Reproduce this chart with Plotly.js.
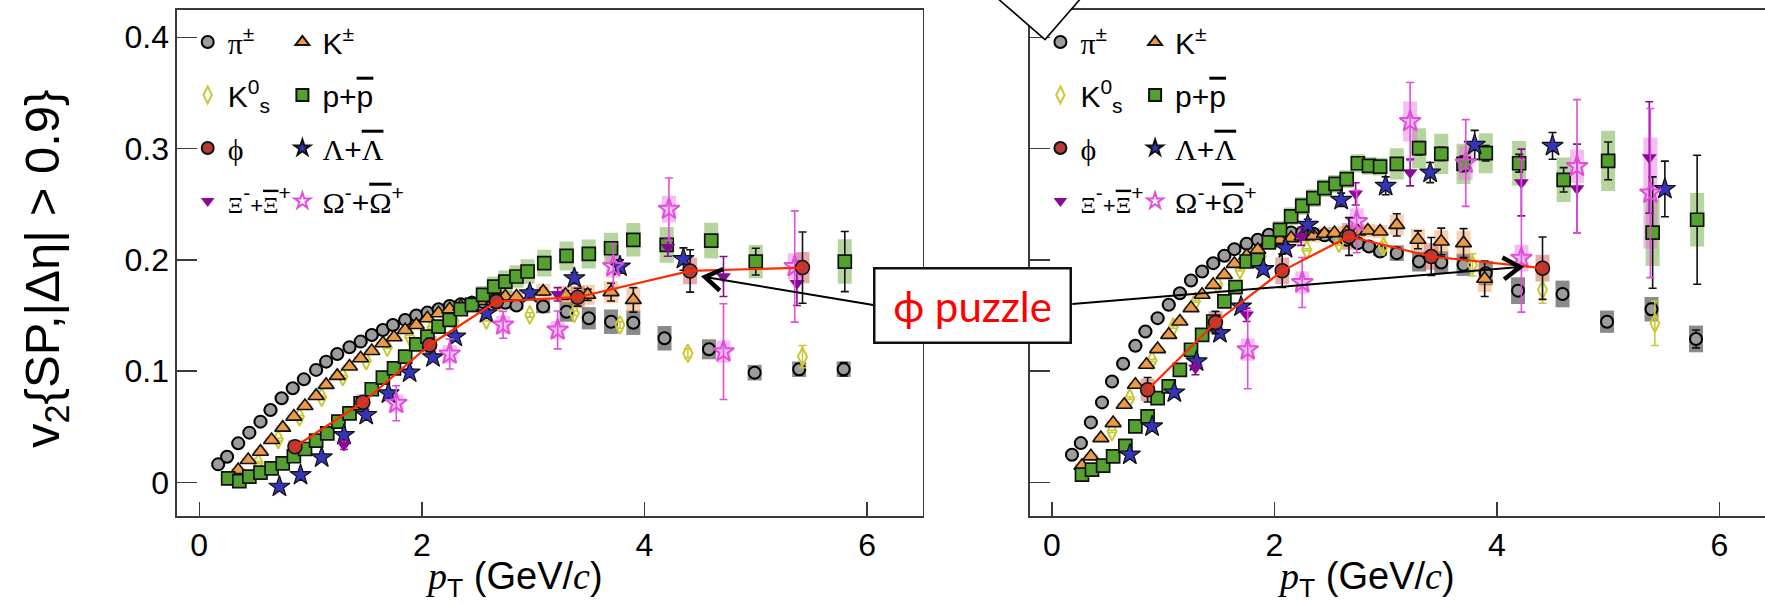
<!DOCTYPE html>
<html><head><meta charset="utf-8">
<script src="https://cdn.plot.ly/plotly-3.0.1.min.js"></script>
<style>html,body{margin:0;padding:0;overflow:hidden;background:#fff}</style>
</head><body><div id="chart" style="width:1800px;height:604px"></div>
<script>
// ---------------- DATA: left panel ----------------
const piL_x = [0.17,0.25,0.35,0.45,0.55,0.64,0.74,0.84,0.94,1.05,1.14,1.24,1.35,1.45,1.55,1.65,1.74,1.85,1.95,2.05,2.15,2.25,2.35,2.45,2.55,2.65,2.75,2.85,3.09,3.30,3.50,3.70,3.90,4.18,4.58,4.99,5.39,5.79];
const piL_v = [0.0162,0.0231,0.0351,0.0447,0.0546,0.0651,0.0756,0.0846,0.0927,0.1011,0.1085,0.1154,0.1214,0.1265,0.1325,0.137,0.1415,0.146,0.150,0.1526,0.1556,0.1586,0.160,0.1615,0.162,0.1625,0.1615,0.159,0.158,0.1534,0.1475,0.1444,0.1435,0.1295,0.1196,0.0986,0.1016,0.1016];
const piL_e = [0.001,0.001,0.001,0.001,0.001,0.001,0.001,0.001,0.001,0.001,0.001,0.001,0.001,0.001,0.001,0.001,0.001,0.001,0.001,0.001,0.001,0.001,0.001,0.001,0.001,0.001,0.001,0.001,0.002,0.002,0.002,0.003,0.003,0.003,0.004,0.004,0.005,0.006];
const piL_s = [0.002,0.002,0.002,0.002,0.002,0.002,0.002,0.002,0.002,0.002,0.002,0.002,0.002,0.002,0.002,0.002,0.002,0.002,0.002,0.002,0.002,0.002,0.004,0.004,0.004,0.004,0.004,0.004,0.006,0.009,0.010,0.011,0.011,0.011,0.009,0.007,0.007,0.007];

const kL_x = [0.35,0.44,0.55,0.65,0.75,0.85,0.95,1.05,1.14,1.24,1.35,1.45,1.55,1.65,1.75,1.85,1.95,2.05,2.15,2.25,2.35,2.45,2.55,2.65,2.75,2.85,3.09,3.29,3.49,3.70,3.90];
const kL_v = [0.0111,0.0201,0.0276,0.0381,0.0492,0.0591,0.0687,0.0777,0.0876,0.0957,0.1041,0.1115,0.1181,0.125,0.1304,0.137,0.1415,0.1475,0.152,0.1556,0.158,0.161,0.163,0.165,0.167,0.167,0.1715,0.1685,0.1686,0.171,0.164];
const kL_e = [0.001,0.001,0.001,0.001,0.001,0.001,0.001,0.001,0.001,0.001,0.001,0.001,0.001,0.001,0.001,0.001,0.001,0.001,0.001,0.001,0.002,0.002,0.002,0.002,0.002,0.002,0.003,0.004,0.005,0.008,0.011];
const kL_s = [0.002,0.002,0.002,0.002,0.002,0.002,0.002,0.002,0.002,0.002,0.002,0.002,0.002,0.002,0.002,0.002,0.002,0.002,0.002,0.002,0.005,0.005,0.005,0.005,0.005,0.005,0.007,0.008,0.009,0.010,0.011];

const k0L_x = [0.53,0.71,0.90,1.10,1.29,1.50,1.69,1.89,2.09,2.29,2.58,2.97,3.37,3.78,4.39,5.42];
const k0L_v = [0.0177,0.0387,0.0591,0.0765,0.0951,0.1094,0.1214,0.131,0.139,0.145,0.146,0.1505,0.152,0.1415,0.116,0.113];
const k0L_e = [0.001,0.001,0.001,0.001,0.001,0.001,0.001,0.001,0.001,0.001,0.001,0.002,0.002,0.003,0.004,0.010];

const pL_x = [0.26,0.36,0.45,0.55,0.65,0.75,0.85,0.95,1.05,1.15,1.25,1.35,1.45,1.55,1.65,1.75,1.85,1.95,2.05,2.15,2.25,2.35,2.45,2.55,2.65,2.75,2.85,2.95,3.10,3.30,3.50,3.70,3.90,4.20,4.60,5.00,5.80];
const pL_v = [0.0036,0.0012,0.0051,0.0087,0.0126,0.0171,0.0235,0.030,0.0375,0.0441,0.0546,0.062,0.071,0.0837,0.0942,0.1025,0.113,0.124,0.131,0.140,0.146,0.1556,0.1595,0.1685,0.176,0.1805,0.185,0.1895,0.197,0.2035,0.2053,0.2104,0.218,0.2134,0.2173,0.1984,0.1984];
const pL_e = [0.001,0.001,0.001,0.001,0.001,0.001,0.001,0.001,0.001,0.001,0.001,0.001,0.001,0.001,0.001,0.001,0.001,0.001,0.001,0.001,0.001,0.001,0.001,0.001,0.001,0.001,0.001,0.001,0.002,0.003,0.003,0.004,0.004,0.005,0.005,0.012,0.027];
const pL_s = [0.002,0.002,0.002,0.002,0.002,0.002,0.002,0.002,0.002,0.002,0.002,0.002,0.002,0.002,0.002,0.002,0.002,0.002,0.002,0.002,0.005,0.006,0.007,0.008,0.009,0.010,0.010,0.011,0.012,0.013,0.013,0.014,0.015,0.016,0.016,0.015,0.020];

const phiL_x = [0.86,1.47,2.07,2.67,3.40,4.41,5.42];
const phiL_v = [0.032,0.072,0.1235,0.1625,0.1664,0.190,0.193];
const phiL_e = [0.004,0.004,0.006,0.006,0.008,0.019,0.032];
const phiL_s = [0.006,0.007,0.008,0.009,0.010,0.012,0.014];

const laL_x = [0.72,0.91,1.10,1.30,1.50,1.70,1.89,2.10,2.30,2.58,2.97,3.37,3.78,4.35];
const laL_v = [-0.0039,0.0066,0.0225,0.0426,0.0606,0.080,0.0987,0.1124,0.131,0.152,0.170,0.1835,0.194,0.2007];
const laL_e = [0.002,0.002,0.002,0.002,0.002,0.003,0.003,0.003,0.003,0.004,0.004,0.005,0.006,0.010];

const xiL_x = [1.30,3.22,4.21,4.71,5.37];
const xiL_v = [0.0336,0.1690,0.2112,0.185,0.179];
const xiL_e = [0.004,0.006,0.008,0.018,0.020];

const omL_x = [1.77,2.25,2.73,3.22,3.72,4.22,4.71,5.35];
const omL_v = [0.0711,0.1154,0.1415,0.137,0.194,0.2455,0.1175,0.194];
const omL_ep = [0.0157,0.0135,0.012,0.017,0.020,0.028,0.043,0.050];
const omL_em = [0.0157,0.0135,0.012,0.017,0.020,0.028,0.043,0.050];
const omL_s = [0.008,0.008,0.008,0.008,0.010,0.012,0.010,0.012];

// ---------------- DATA: right panel ----------------
const piR_x = [0.18,0.26,0.35,0.45,0.54,0.64,0.75,0.84,0.95,1.05,1.15,1.25,1.35,1.45,1.55,1.64,1.75,1.85,1.95,2.05,2.15,2.25,2.35,2.45,2.55,2.65,2.75,2.85,2.95,3.10,3.30,3.50,3.70,3.90,4.19,4.59,4.99,5.39,5.79];
const piR_v = [0.0249,0.0353,0.0539,0.0719,0.0907,0.1066,0.1228,0.1356,0.1476,0.1596,0.170,0.1814,0.1895,0.197,0.2036,0.2096,0.2144,0.218,0.2225,0.2235,0.2245,0.2245,0.2235,0.222,0.220,0.218,0.215,0.212,0.2075,0.206,0.1985,0.1976,0.1955,0.188,0.1723,0.1693,0.1444,0.1556,0.1289];
const piR_e = [0.001,0.001,0.001,0.001,0.001,0.001,0.001,0.001,0.001,0.001,0.001,0.001,0.001,0.001,0.001,0.001,0.001,0.001,0.001,0.001,0.001,0.001,0.001,0.001,0.001,0.001,0.001,0.001,0.001,0.002,0.002,0.002,0.002,0.002,0.003,0.004,0.004,0.005,0.008];
const piR_s = [0.002,0.002,0.002,0.002,0.002,0.002,0.002,0.002,0.002,0.002,0.002,0.002,0.002,0.002,0.002,0.002,0.002,0.002,0.002,0.004,0.004,0.004,0.004,0.004,0.004,0.004,0.004,0.004,0.004,0.007,0.009,0.010,0.010,0.011,0.012,0.012,0.010,0.011,0.012];

const kR_x = [0.27,0.35,0.44,0.55,0.65,0.75,0.85,0.95,1.05,1.15,1.25,1.35,1.45,1.55,1.64,1.75,1.85,1.95,2.05,2.15,2.25,2.35,2.45,2.54,2.65,2.75,2.84,2.95,3.10,3.29,3.50,3.70,3.89];
const kR_v = [0.015,0.0234,0.0398,0.0533,0.0698,0.0877,0.1057,0.1198,0.1326,0.1446,0.1566,0.1686,0.1775,0.1865,0.1964,0.2036,0.209,0.215,0.218,0.2195,0.221,0.2216,0.2234,0.224,0.2245,0.2255,0.2263,0.2254,0.2314,0.218,0.2165,0.215,0.183];
const kR_e = [0.001,0.001,0.001,0.001,0.001,0.001,0.001,0.001,0.001,0.001,0.001,0.001,0.001,0.001,0.001,0.001,0.001,0.001,0.002,0.002,0.002,0.002,0.002,0.002,0.002,0.002,0.002,0.002,0.010,0.008,0.012,0.013,0.016];
const kR_s = [0.002,0.002,0.002,0.002,0.002,0.002,0.002,0.002,0.002,0.002,0.002,0.002,0.002,0.002,0.002,0.002,0.002,0.002,0.006,0.006,0.006,0.006,0.006,0.006,0.006,0.006,0.006,0.006,0.009,0.010,0.010,0.011,0.012];

const k0R_x = [0.54,0.70,0.90,1.09,1.29,1.49,1.69,1.88,2.09,2.29,2.58,2.98,3.78,4.41,5.42];
const k0R_v = [0.0458,0.0757,0.1096,0.1395,0.1626,0.1775,0.191,0.203,0.2135,0.209,0.215,0.212,0.1955,0.173,0.143];
const k0R_e = [0.001,0.001,0.001,0.001,0.001,0.001,0.001,0.001,0.001,0.001,0.002,0.004,0.010,0.012,0.020];

const pR_x = [0.27,0.36,0.46,0.55,0.66,0.75,0.86,0.95,1.05,1.15,1.25,1.35,1.45,1.55,1.65,1.75,1.85,1.95,2.05,2.15,2.25,2.35,2.45,2.55,2.65,2.75,2.85,2.95,3.10,3.30,3.50,3.70,3.90,4.20,4.60,5.00,5.40,5.80];
const pR_v = [0.0069,0.0114,0.015,0.0234,0.0329,0.0503,0.0593,0.0757,0.0862,0.1012,0.1192,0.1326,0.1446,0.1626,0.1754,0.1985,0.200,0.2156,0.227,0.239,0.2485,0.2554,0.2644,0.2683,0.2725,0.2868,0.2844,0.2838,0.2862,0.3003,0.2952,0.2862,0.2958,0.2868,0.2719,0.2889,0.2245,0.236];
const pR_e = [0.001,0.001,0.001,0.001,0.001,0.001,0.001,0.001,0.001,0.001,0.001,0.001,0.001,0.001,0.001,0.001,0.001,0.001,0.002,0.002,0.002,0.002,0.002,0.002,0.002,0.002,0.002,0.002,0.004,0.006,0.006,0.007,0.007,0.008,0.011,0.017,0.050,0.058];
const pR_s = [0.002,0.002,0.002,0.002,0.002,0.002,0.002,0.002,0.002,0.002,0.002,0.002,0.002,0.002,0.002,0.002,0.002,0.002,0.008,0.008,0.008,0.008,0.008,0.008,0.008,0.008,0.008,0.008,0.014,0.018,0.018,0.018,0.018,0.020,0.020,0.027,0.030,0.024];

const phiR_x = [0.86,1.47,2.07,2.67,3.41,4.41];
const phiR_v = [0.0832,0.1437,0.1901,0.221,0.203,0.1925];
const phiR_e = [0.011,0.010,0.015,0.017,0.017,0.028];
const phiR_s = [0.010,0.010,0.012,0.012,0.012,0.012];

const laR_x = [0.70,0.90,1.10,1.30,1.51,1.70,1.90,2.10,2.30,2.60,3.00,3.40,3.80,4.50,5.51];
const laR_v = [0.0249,0.0503,0.0808,0.1087,0.1341,0.158,0.1916,0.2105,0.2314,0.2539,0.2665,0.2784,0.3033,0.3024,0.2637];
const laR_e = [0.002,0.002,0.003,0.003,0.003,0.003,0.004,0.004,0.005,0.006,0.008,0.009,0.013,0.012,0.025];

const xiR_x = [1.29,1.75,2.24,2.73,3.22,4.22,4.72,5.37];
const xiR_v = [0.1027,0.1506,0.221,0.2593,0.2785,0.2695,0.264,0.292];
const xiR_e = [0.006,0.006,0.008,0.010,0.012,0.030,0.040,0.050];

const omR_x = [1.76,2.25,2.74,3.22,3.72,4.22,4.72,5.38];
const omR_v = [0.1192,0.1796,0.2344,0.3243,0.287,0.2015,0.284,0.26];
const omR_ep = [0.035,0.0225,0.028,0.035,0.039,0.0885,0.060,0.076];
const omR_em = [0.035,0.0225,0.028,0.035,0.039,0.0485,0.060,0.076];
const omR_s = [0.010,0.010,0.012,0.018,0.015,0.012,0.015,0.050];

// ---------------- labels ----------------
const SERIF = "font-family:'Liberation Serif','Times New Roman',serif";
const names = {
  pi: `<span style="${SERIF}">π</span><sup>±</sup>`,
  k: `K<sup>±</sup>`,
  k0: `K<sup>0</sup><sub>s</sub>`,
  p: `p+<span style="text-decoration:overline">p</span>`,
  phi: `<span style="${SERIF}">ϕ</span>`,
  la: `<span style="${SERIF}">Λ</span>+<span style="${SERIF};text-decoration:overline">Λ</span>`,
  xi: `<span style="${SERIF};font-size:24px">Ξ</span><sup>-</sup><span style="font-size:22px">+</span><span style="${SERIF};font-size:24px;text-decoration:overline">Ξ</span><sup>+</sup>`,
  om: `<span style="${SERIF}">Ω</span><sup>-</sup>+<span style="${SERIF};text-decoration:overline">Ω</span><sup>+</sup>`
};
const yTitle = 'v<sub>2</sub>{SP,|Δη| > 0.9}';
const xTitle = `<span style="${SERIF}"><i>p</i></span><sub>T</sub> (GeV/<span style="${SERIF}"><i>c</i></span>)`;
const puzzleText = 'ϕ puzzle';

// ---------------- geometry ----------------
const W = 1800, H = 604, ML = 177, MR = 25, MT = 10, MB = 88;
const PW = W - ML - MR, PH = H - MT - MB;
const px = x => (x - ML) / PW;
const py = y => (H - MB - y) / PH;

// ---------------- styles ----------------
const MK = {
  pi: {symbol:'circle', size:12, color:'#9c9c9c', line:{color:'#000', width:2}},
  k: {symbol:'triangle-up', size:14, color:'#ED9A45', line:{color:'#111', width:1.6}},
  k0: {symbol:'diamond-tall-open', size:13, color:'#C9C935', line:{color:'#C9C935', width:2}},
  p: {symbol:'square', size:13, color:'#55A12F', line:{color:'#111', width:1.7}},
  phi: {symbol:'circle', size:14, color:'#B83A36', line:{color:'#111', width:1.5}},
  la: {symbol:'star', size:16, color:'#3434B6', line:{color:'#111', width:1.2}},
  xi: {symbol:'triangle-down', size:13, color:'#8A0A98', line:{color:'#8A0A98', width:0}},
  om: {symbol:'star-open', size:16, color:'#E04FDC', line:{color:'#E04FDC', width:2}}
};
const SYS = {pi:'rgba(60,60,60,0.6)', k:'rgba(240,150,80,0.45)', p:'rgba(110,170,60,0.5)',
             phi:'rgba(200,70,70,0.45)', om:'rgba(230,110,225,0.45)'};

const traces = [];
function sys(x, v, s, col, xa, ya) {
  traces.push({type:'scatter', mode:'markers', x:x, y:v, xaxis:xa, yaxis:ya,
    marker:{size:1, opacity:0}, showlegend:false, hoverinfo:'skip',
    error_y:{type:'data', array:s, color:col, thickness:14, width:0}});
}
function pts(key, x, v, ep, em, ecol, xa, ya, leg, rank) {
  const err = {type:'data', array:ep, color:ecol, thickness:1.6, width:4};
  if (em) { err.symmetric = false; err.arrayminus = em; }
  traces.push({type:'scatter', mode:'markers', x:x, y:v, xaxis:xa, yaxis:ya,
    name:names[key], marker:MK[key], error_y:err, legend:leg, legendrank:rank,
    legendgroup:key + leg, showlegend:true});
}
function phiLine(x, v, xa, ya) {
  traces.push({type:'scatter', mode:'lines', x:x, y:v, xaxis:xa, yaxis:ya,
    line:{color:'#FF2A00', width:2.2}, showlegend:false, hoverinfo:'skip'});
}

// left panel
sys(piL_x, piL_v, piL_s, SYS.pi, 'x', 'y');
sys(kL_x, kL_v, kL_s, SYS.k, 'x', 'y');
sys(pL_x, pL_v, pL_s, SYS.p, 'x', 'y');
sys(phiL_x, phiL_v, phiL_s, SYS.phi, 'x', 'y');
sys(omL_x, omL_v, omL_s, SYS.om, 'x', 'y');
pts('pi', piL_x, piL_v, piL_e, null, '#111', 'x', 'y', 'legend', 1);
pts('k0', k0L_x, k0L_v, k0L_e, null, '#C9C935', 'x', 'y', 'legend', 2);
pts('k', kL_x, kL_v, kL_e, null, '#111', 'x', 'y', 'legend2', 1);
pts('p', pL_x, pL_v, pL_e, null, '#111', 'x', 'y', 'legend2', 2);
pts('la', laL_x, laL_v, laL_e, null, '#111', 'x', 'y', 'legend2', 3);
pts('xi', xiL_x, xiL_v, xiL_e, null, '#8A0A98', 'x', 'y', 'legend', 4);
pts('om', omL_x, omL_v, omL_ep, omL_em, '#E04FDC', 'x', 'y', 'legend2', 4);
pts('phi', phiL_x, phiL_v, phiL_e, null, '#111', 'x', 'y', 'legend', 3);
phiLine(phiL_x, phiL_v, 'x', 'y');

// right panel
sys(piR_x, piR_v, piR_s, SYS.pi, 'x2', 'y2');
sys(kR_x, kR_v, kR_s, SYS.k, 'x2', 'y2');
sys(pR_x, pR_v, pR_s, SYS.p, 'x2', 'y2');
sys(phiR_x, phiR_v, phiR_s, SYS.phi, 'x2', 'y2');
sys(omR_x, omR_v, omR_s, SYS.om, 'x2', 'y2');
pts('pi', piR_x, piR_v, piR_e, null, '#111', 'x2', 'y2', 'legend3', 1);
pts('k0', k0R_x, k0R_v, k0R_e, null, '#C9C935', 'x2', 'y2', 'legend3', 2);
pts('k', kR_x, kR_v, kR_e, null, '#111', 'x2', 'y2', 'legend4', 1);
pts('p', pR_x, pR_v, pR_e, null, '#111', 'x2', 'y2', 'legend4', 2);
pts('la', laR_x, laR_v, laR_e, null, '#111', 'x2', 'y2', 'legend4', 3);
pts('xi', xiR_x, xiR_v, xiR_e, null, '#8A0A98', 'x2', 'y2', 'legend3', 4);
pts('om', omR_x, omR_v, omR_ep, omR_em, '#E04FDC', 'x2', 'y2', 'legend4', 4);
pts('phi', phiR_x, phiR_v, phiR_e, null, '#111', 'x2', 'y2', 'legend3', 3);
phiLine(phiR_x, phiR_v, 'x2', 'y2');

// ---------------- axes ----------------
const AX = {showline:true, mirror:true, linecolor:'#3a3a3a', linewidth:1.6, ticks:'inside',
  tickcolor:'#3a3a3a', tickwidth:1.4, showgrid:false, zeroline:false,
  tickfont:{family:'Liberation Sans, Arial, sans-serif', size:32, color:'#000'}};
const XR = [-0.2, 6.5], YR = [-0.0302, 0.4245];
const xa = Object.assign({}, AX, {domain:[0, px(922.7)], range:XR, anchor:'y', tickvals:[0,2,4,6], ticklen:14});
const xa2 = Object.assign({}, AX, {domain:[px(1029.7), 1], range:XR, anchor:'y2', tickvals:[0,2,4,6], ticklen:14});
const ya = Object.assign({}, AX, {domain:[0,1], range:YR, anchor:'x', tickvals:[0,0.1,0.2,0.3,0.4], ticklen:20});
const ya2 = Object.assign({}, AX, {domain:[0,1], range:YR, anchor:'x2', tickvals:[0,0.1,0.2,0.3,0.4], ticklen:20, showticklabels:false});

// ---------------- legends ----------------
const LEG = {bgcolor:'rgba(0,0,0,0)', borderwidth:0, xanchor:'left', yanchor:'top',
  font:{family:'Liberation Sans, Arial, sans-serif', size:30, color:'#000'},
  tracegroupgap:11, itemsizing:'constant', traceorder:'grouped', orientation:'v'};
const legTop = py(16);
const leg1 = Object.assign({}, LEG, {x:px(187.7), y:legTop});
const leg2 = Object.assign({}, LEG, {x:px(282.4), y:legTop});
const leg3 = Object.assign({}, LEG, {x:px(1040.4), y:legTop});
const leg4 = Object.assign({}, LEG, {x:px(1135.1), y:legTop});

// ---------------- callout geometry ----------------
function chevron(tip, from, len, angDeg) {
  const dx = from[0] - tip[0], dy = from[1] - tip[1];
  const d = Math.hypot(dx, dy), ux = dx / d, uy = dy / d;
  const a = angDeg * Math.PI / 180;
  const r = s => [tip[0] + len * (ux * Math.cos(s * a) - uy * Math.sin(s * a)),
                  tip[1] + len * (ux * Math.sin(s * a) + uy * Math.cos(s * a))];
  const p1 = r(1), p2 = r(-1);
  return `M ${px(p1[0])} ${py(p1[1])} L ${px(tip[0])} ${py(tip[1])} L ${px(p2[0])} ${py(p2[1])}`;
}
const boxL = [873.3, 305], tipL = [705, 277];
const boxR = [1072.3, 304], tipR = [1520, 267];
const shapes = [
  {type:'line', xref:'paper', yref:'paper', x0:px(boxL[0]), y0:py(boxL[1]), x1:px(tipL[0]), y1:py(tipL[1]), line:{color:'#000', width:2}, layer:'above'},
  {type:'path', xref:'paper', yref:'paper', path:chevron(tipL, boxL, 20, 33), line:{color:'#000', width:4.5}, layer:'above'},
  {type:'line', xref:'paper', yref:'paper', x0:px(boxR[0]), y0:py(boxR[1]), x1:px(tipR[0]), y1:py(tipR[1]), line:{color:'#000', width:2}, layer:'above'},
  {type:'path', xref:'paper', yref:'paper', path:chevron(tipR, boxR, 20, 33), line:{color:'#000', width:4.5}, layer:'above'},
  {type:'path', xref:'paper', yref:'paper',
   path:`M ${px(996)} ${py(-3)} L ${px(1045)} ${py(39.5)} L ${px(1082)} ${py(-3)} Z`,
   fillcolor:'#fff', line:{color:'#000', width:1.6}, layer:'above'}
];

const TF = {family:'Liberation Sans, Arial, sans-serif', size:38, color:'#000'};
const annotations = [
  {xref:'paper', yref:'paper', x:px(46), y:py(269), text:yTitle, textangle:-90, showarrow:false,
   font:{family:'Liberation Sans, Arial, sans-serif', size:49, color:'#000'}, xanchor:'center', yanchor:'middle'},
  {xref:'paper', yref:'paper', x:px(514), y:py(579), text:xTitle, showarrow:false, font:TF, xanchor:'center', yanchor:'middle'},
  {xref:'paper', yref:'paper', x:px(1366), y:py(579), text:xTitle, showarrow:false, font:TF, xanchor:'center', yanchor:'middle'},
  {xref:'paper', yref:'paper', x:px(972.8), y:py(305), text:puzzleText, showarrow:false,
   font:{family:'Lato, Liberation Sans, sans-serif', size:42, color:'#FF0000'},
   bgcolor:'#fff', bordercolor:'#111', borderwidth:2.5, borderpad:0, width:194, height:72,
   xanchor:'center', yanchor:'middle'}
];

const layout = {
  width:W, height:H, margin:{l:ML, r:MR, t:MT, b:MB},
  paper_bgcolor:'#fff', plot_bgcolor:'rgba(0,0,0,0)',
  xaxis:xa, yaxis:ya, xaxis2:xa2, yaxis2:ya2,
  legend:leg1, legend2:leg2, legend3:leg3, legend4:leg4,
  shapes:shapes, annotations:annotations, hovermode:false
};
Plotly.newPlot('chart', traces, layout, {displayModeBar:false, staticPlot:true});
</script></body></html>
